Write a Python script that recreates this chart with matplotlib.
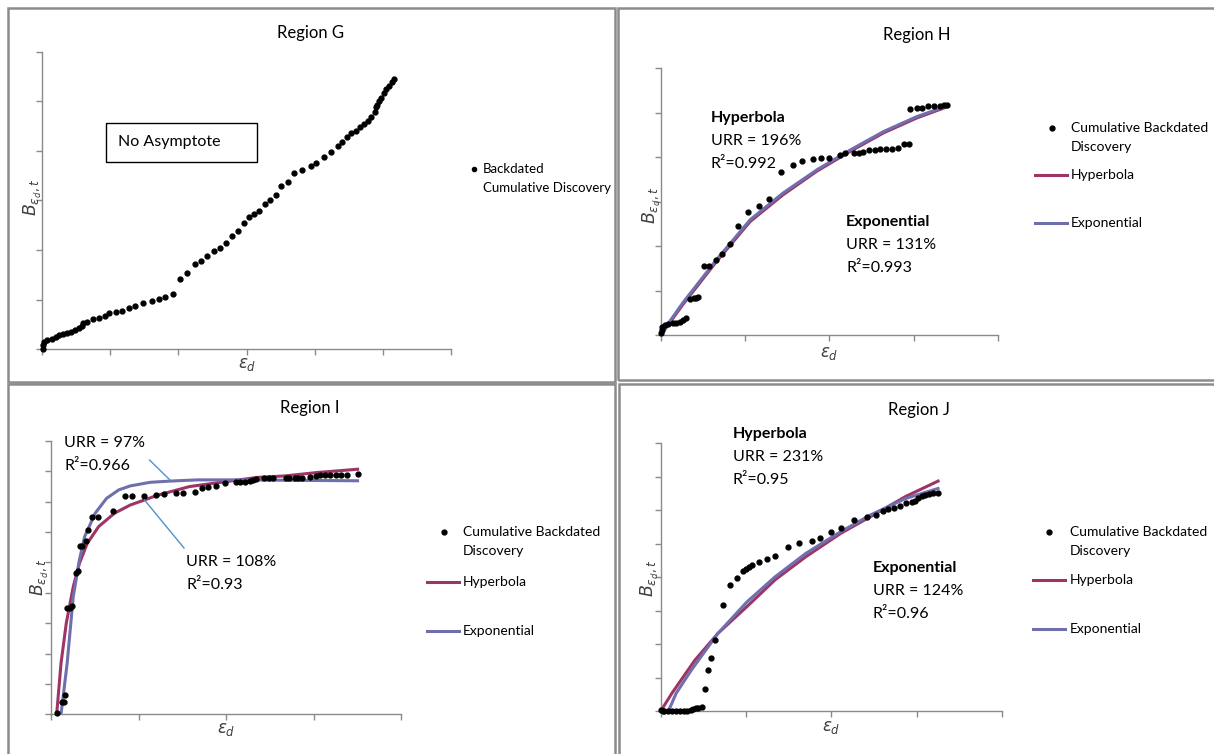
import matplotlib
matplotlib.use('Agg')
import matplotlib.pyplot as plt
from matplotlib.lines import Line2D
from matplotlib.patches import Rectangle

plt.rcParams['font.family'] = ['Lato', 'DejaVu Sans']
plt.rcParams['mathtext.fontset'] = 'dejavusans'

# ---------------- Region G: backdated cumulative discovery ----------------
g_x = [0.01, 0.01, 0.03, 0.08, 0.14, 0.20, 0.25, 0.31, 0.37, 0.43, 0.48, 0.54, 0.59,
       0.60, 0.66, 0.75, 0.83, 0.92, 0.98, 1.08, 1.17, 1.27, 1.37, 1.48, 1.62, 1.71,
       1.81, 1.92, 2.03, 2.13, 2.24, 2.33, 2.42, 2.52, 2.61, 2.70, 2.79, 2.88, 2.96,
       3.04, 3.11, 3.19, 3.27, 3.35, 3.43, 3.51, 3.61, 3.70, 3.81, 3.94, 4.02, 4.14,
       4.24, 4.34, 4.40, 4.47, 4.54, 4.60, 4.66, 4.72, 4.78, 4.83, 4.88, 4.90, 4.92,
       4.94, 4.97, 5.01, 5.05, 5.09, 5.13, 5.17]
g_y = [0.00, 0.08, 0.15, 0.18, 0.20, 0.24, 0.28, 0.30, 0.33, 0.35, 0.38, 0.42, 0.46,
       0.52, 0.55, 0.60, 0.62, 0.67, 0.72, 0.75, 0.77, 0.82, 0.86, 0.92, 0.97, 1.02,
       1.06, 1.12, 1.41, 1.54, 1.71, 1.78, 1.88, 1.97, 2.05, 2.15, 2.28, 2.38, 2.55,
       2.66, 2.73, 2.79, 2.93, 3.02, 3.11, 3.30, 3.38, 3.55, 3.62, 3.70, 3.76, 3.87,
       3.97, 4.11, 4.18, 4.28, 4.36, 4.41, 4.48, 4.54, 4.61, 4.69, 4.79, 4.88, 4.93,
       5.02, 5.08, 5.17, 5.25, 5.31, 5.40, 5.45]

# ---------------- Region H ----------------
h_x = [0.00, 0.01, 0.02, 0.05, 0.09, 0.14, 0.18, 0.23, 0.26, 0.30, 0.35, 0.39, 0.42,
       0.44, 0.51, 0.57, 0.66, 0.73, 0.82, 0.92, 1.03, 1.16, 1.28, 1.43, 1.57, 1.68,
       1.81, 1.90, 1.99, 2.12, 2.18, 2.29, 2.35, 2.40, 2.47, 2.54, 2.60, 2.67, 2.74,
       2.81, 2.88, 2.94, 2.96, 3.04, 3.10, 3.17, 3.24, 3.31, 3.36, 3.40]
h_y = [0.04, 0.11, 0.19, 0.23, 0.25, 0.26, 0.28, 0.30, 0.34, 0.38, 0.80, 0.83, 0.84,
       0.85, 1.54, 1.54, 1.68, 1.83, 2.05, 2.46, 2.76, 2.89, 3.05, 3.66, 3.83, 3.91,
       3.95, 3.97, 3.97, 4.05, 4.08, 4.08, 4.08, 4.11, 4.16, 4.16, 4.17, 4.19, 4.19,
       4.21, 4.29, 4.29, 5.08, 5.10, 5.11, 5.14, 5.15, 5.15, 5.17, 5.17]
h_fit_x = [0.00, 0.26, 0.66, 1.06, 1.45, 1.85, 2.25, 2.64, 3.04, 3.40]
h_hyp_y = [0.00, 0.68, 1.65, 2.55, 3.15, 3.68, 4.13, 4.54, 4.88, 5.13]
h_exp_y = [0.02, 0.72, 1.69, 2.59, 3.19, 3.71, 4.16, 4.57, 4.91, 5.15]

# ---------------- Region I ----------------
i_x = [0.06, 0.12, 0.14, 0.16, 0.18, 0.21, 0.24, 0.28, 0.30, 0.33, 0.35, 0.40, 0.42,
       0.46, 0.53, 0.70, 0.84, 0.92, 1.06, 1.20, 1.29, 1.42, 1.50, 1.64, 1.72, 1.79,
       1.88, 1.98, 2.11, 2.16, 2.21, 2.27, 2.31, 2.34, 2.43, 2.49, 2.53, 2.68, 2.72,
       2.78, 2.82, 2.87, 2.96, 3.02, 3.07, 3.13, 3.18, 3.25, 3.31, 3.38, 3.50]
i_y = [0.03, 0.42, 0.42, 0.64, 3.51, 3.51, 3.55, 4.64, 4.72, 5.55, 5.55, 5.71, 6.07,
       6.49, 6.49, 6.71, 7.19, 7.19, 7.19, 7.22, 7.24, 7.28, 7.30, 7.33, 7.46, 7.48,
       7.52, 7.63, 7.64, 7.64, 7.66, 7.68, 7.72, 7.74, 7.77, 7.77, 7.77, 7.77, 7.79,
       7.79, 7.79, 7.79, 7.83, 7.86, 7.88, 7.88, 7.88, 7.88, 7.88, 7.88, 7.91]
i_hyp_x = [0.06, 0.11, 0.17, 0.25, 0.32, 0.41, 0.54, 0.72, 0.90, 1.22, 1.58, 1.99,
           2.35, 2.67, 3.03, 3.50]
i_hyp_y = [0.00, 1.68, 3.00, 4.20, 4.97, 5.63, 6.18, 6.62, 6.89, 7.22, 7.50, 7.66,
           7.80, 7.85, 7.96, 8.07]
i_exp_x = [0.11, 0.18, 0.25, 0.32, 0.38, 0.50, 0.63, 0.77, 0.90, 1.13, 1.36, 1.67,
           2.12, 3.50]
i_exp_y = [0.00, 1.68, 3.88, 5.08, 5.85, 6.62, 7.11, 7.39, 7.52, 7.64, 7.68, 7.72,
           7.72, 7.69]

# ---------------- Region J ----------------
j_x = [0.00, 0.02, 0.04, 0.09, 0.13, 0.18, 0.22, 0.27, 0.31, 0.35, 0.38, 0.41, 0.44,
       0.48, 0.52, 0.55, 0.59, 0.64, 0.73, 0.81, 0.89, 0.96, 1.00, 1.03, 1.07, 1.15,
       1.24, 1.34, 1.49, 1.62, 1.77, 1.87, 1.99, 2.11, 2.27, 2.42, 2.52, 2.60, 2.66,
       2.73, 2.80, 2.88, 2.95, 2.98, 3.02, 3.06, 3.10, 3.14, 3.19, 3.25]
j_y = [0.03, 0.01, 0.01, 0.01, 0.01, 0.01, 0.01, 0.01, 0.01, 0.03, 0.06, 0.08, 0.08,
       0.11, 0.65, 1.23, 1.57, 2.12, 3.16, 3.78, 3.96, 4.19, 4.23, 4.29, 4.35, 4.44,
       4.54, 4.63, 4.89, 5.01, 5.09, 5.16, 5.36, 5.48, 5.71, 5.79, 5.86, 5.98, 6.03,
       6.06, 6.13, 6.21, 6.26, 6.28, 6.38, 6.42, 6.45, 6.48, 6.50, 6.52]
j_hyp_x = [0.00, 0.13, 0.40, 0.67, 1.01, 1.34, 1.70, 2.11, 2.46, 2.87, 3.25]
j_hyp_y = [0.00, 0.53, 1.52, 2.32, 3.12, 3.92, 4.61, 5.31, 5.81, 6.41, 6.87]
j_exp_x = [0.09, 0.18, 0.36, 0.67, 1.01, 1.34, 1.70, 2.11, 2.46, 2.87, 3.25]
j_exp_y = [0.00, 0.53, 1.23, 2.32, 3.26, 4.01, 4.71, 5.36, 5.86, 6.35, 6.65]

HYP_COLOR = '#9e3466'
EXP_COLOR = '#6f6fae'
AXIS_COLOR = '#8a8a8a'
BORDER_COLOR = '#8c8c8c'
LEADER_COLOR = '#4f92cf'
DOT_SIZE = 3.5

W, H = 1214, 754
fig = plt.figure(figsize=(W / 100, H / 100), dpi=100)


def fx(px):
    return px / W


def fy(py):
    return 1 - py / H


def make_axes(x0, x1, y_top, y_bot, nx, ny):
    ax = fig.add_axes([fx(x0), fy(y_bot), (x1 - x0) / W, (y_bot - y_top) / H])
    ax.set_xlim(0, nx)
    ax.set_ylim(0, ny)
    ax.set_xticks(range(nx + 1))
    ax.set_yticks(range(ny + 1))
    ax.set_xticklabels([])
    ax.set_yticklabels([])
    for s in ('top', 'right'):
        ax.spines[s].set_visible(False)
    for s in ('left', 'bottom'):
        ax.spines[s].set_color(AXIS_COLOR)
        ax.spines[s].set_linewidth(1.0)
    ax.tick_params(direction='out', length=4, color=AXIS_COLOR, width=1)
    ax.patch.set_alpha(0)
    return ax


def panel_border(x0, y0, x1, y1):
    fig.add_artist(Rectangle((fx(x0), fy(y1)), (x1 - x0) / W, (y1 - y0) / H,
                             transform=fig.transFigure, fill=False,
                             ec=BORDER_COLOR, lw=1.8))


def scatter(ax, x, y):
    ax.plot(x, y, 'o', color='black', ms=DOT_SIZE, mec='black', clip_on=False, zorder=4)


def labels(title, tx, ty, ylx, yly, xlx, xly):
    fig.text(fx(tx), fy(ty), title, ha='center', va='center', fontsize=12)
    fig.text(fx(ylx), fy(yly), r'$B_{\varepsilon_d,t}$', rotation=90, ha='center',
             va='center', fontsize=12.5, color='#404040')
    fig.text(fx(xlx), fy(xly), r'$\varepsilon_d$', ha='center', va='center',
             fontsize=12, color='#404040')


def legend(dot_x, dot_y, text_x, line_x0, line_x1, hyp_y, exp_y):
    fig.add_artist(Line2D([fx(dot_x)], [fy(dot_y)], marker='o', color='black', ms=DOT_SIZE,
                          transform=fig.transFigure))
    fig.text(fx(text_x), fy(dot_y), 'Cumulative Backdated', ha='left', va='center',
             fontsize=10)
    fig.text(fx(text_x), fy(dot_y + 19), 'Discovery', ha='left', va='center', fontsize=10)
    for yy, col, name in ((hyp_y, HYP_COLOR, 'Hyperbola'), (exp_y, EXP_COLOR, 'Exponential')):
        fig.add_artist(Line2D([fx(line_x0), fx(line_x1)], [fy(yy), fy(yy)], color=col,
                              lw=2.2, transform=fig.transFigure))
        fig.text(fx(text_x), fy(yy), name, ha='left', va='center', fontsize=10)


def stat_block(x, y, head, urr, r2):
    yy = y
    if head:
        fig.text(fx(x), fy(yy), head, ha='left', va='center', fontsize=11.5, weight='bold')
        yy += 23
    fig.text(fx(x), fy(yy), urr, ha='left', va='center', fontsize=11.5)
    fig.text(fx(x), fy(yy + 23), r2, ha='left', va='center', fontsize=11.5)


# ---- panel borders ----
panel_border(8, 8, 615, 382)
panel_border(618, 8, 1222, 380)
panel_border(8, 384, 615, 762)
panel_border(619, 384, 1222, 762)

# ---- Region G ----
axg = make_axes(42, 451, 52, 349, 6, 6)
scatter(axg, g_x, g_y)
labels('Region G', 311, 33, 33, 197, 247, 365)
fig.add_artist(Rectangle((fx(106), fy(162)), 151 / W, 39 / H, transform=fig.transFigure,
                         fill=True, fc='white', ec='black', lw=1.0))
fig.text(fx(118), fy(142), 'No Asymptote', ha='left', va='center', fontsize=11.5)
fig.add_artist(Line2D([fx(474)], [fy(169)], marker='o', color='black', ms=3.0,
                      transform=fig.transFigure))
fig.text(fx(483), fy(169), 'Backdated', ha='left', va='center', fontsize=9.5)
fig.text(fx(483), fy(188), 'Cumulative Discovery', ha='left', va='center', fontsize=9.5)

# ---- Region H ----
axh = make_axes(660.8, 998, 68, 335, 4, 6)
axh.plot(h_fit_x, h_hyp_y, color=HYP_COLOR, lw=2.2, zorder=2)
axh.plot(h_fit_x, h_exp_y, color=EXP_COLOR, lw=2.2, zorder=3)
scatter(axh, h_x, h_y)
labels('Region H', 917, 35, 652, 205, 829, 353)
stat_block(711, 118, 'Hyperbola', 'URR = 196%', 'R²=0.992')
stat_block(846, 222, 'Exponential', 'URR = 131%', 'R²=0.993')
legend(1051.6, 128, 1071, 1035, 1067, 175, 223)

# ---- Region I ----
axi = make_axes(51.4, 401.3, 441, 714.3, 4, 9)
axi.plot(i_hyp_x, i_hyp_y, color=HYP_COLOR, lw=2.2, zorder=2)
axi.plot(i_exp_x, i_exp_y, color=EXP_COLOR, lw=2.2, zorder=3)
scatter(axi, i_x, i_y)
labels('Region I', 310, 408, 40, 577, 226, 730)
stat_block(64, 443, None, 'URR = 97%', 'R²=0.966')
stat_block(186, 562, None, 'URR = 108%', 'R²=0.93')
fig.add_artist(Line2D([fx(149.5), fx(170)], [fy(460), fy(480)], color=LEADER_COLOR,
                      lw=1.0, transform=fig.transFigure))
fig.add_artist(Line2D([fx(144.5), fx(184)], [fy(500), fy(548)], color=LEADER_COLOR,
                      lw=1.0, transform=fig.transFigure))
legend(443.6, 532, 462.6, 427, 459, 581.7, 630.7)

# ---- Region J ----
axj = make_axes(660.8, 1002, 443.3, 711, 4, 8)
axj.plot(j_hyp_x, j_hyp_y, color=HYP_COLOR, lw=2.2, zorder=2)
axj.plot(j_exp_x, j_exp_y, color=EXP_COLOR, lw=2.2, zorder=3)
scatter(axj, j_x, j_y)
labels('Region J', 919, 410, 650, 578, 831, 728)
stat_block(733, 434, 'Hyperbola', 'URR = 231%', 'R²=0.95')
stat_block(873, 568, 'Exponential', 'URR = 124%', 'R²=0.96')
legend(1049.3, 532, 1069.5, 1033, 1065, 580, 629.3)

fig.savefig('out.png', dpi=100, facecolor='white')
